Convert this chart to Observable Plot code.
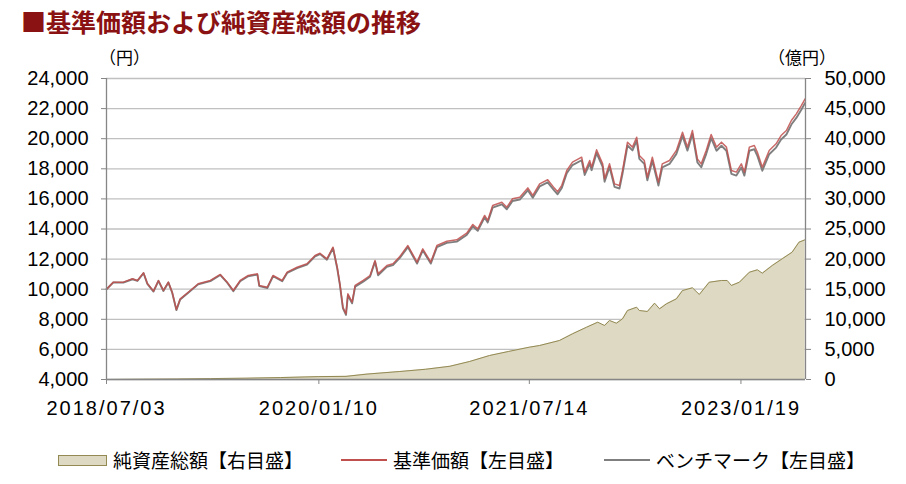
<!DOCTYPE html>
<html><head><meta charset="utf-8">
<script src="https://cdn.jsdelivr.net/npm/d3@7"></script>
<script src="https://cdn.jsdelivr.net/npm/@observablehq/plot@0.6"></script>
<style>
body{margin:0;background:#fff;}
#wrap{position:relative;width:906px;height:484px;overflow:hidden;font-family:"Noto Sans CJK JP",sans-serif;}
.abs{position:absolute;white-space:nowrap;line-height:1;}
#title{left:21px;top:9px;font-size:25px;font-weight:bold;color:#8a1212;}
.unit{top:48px;font-size:17px;color:#000;}
.leg{top:450px;font-size:19px;color:#000;}
#chart{position:absolute;left:0;top:0;}
g[aria-label="x-axis tick label"] text{letter-spacing:2px;}
</style></head>
<body>
<div id="wrap">
  <div id="chart"></div>
  <div id="title" class="abs">■基準価額および純資産総額の推移</div>
  <div class="abs unit" style="left:99px">（円）</div>
  <div class="abs unit" style="left:768px">（億円）</div>
  <div class="abs" style="left:58px;top:455px;width:47px;height:9px;background:#ddd9c3;border:1px solid #938953;"></div>
  <div class="abs leg" style="left:113px">純資産総額【右目盛】</div>
  <div class="abs" style="left:341px;top:459px;width:46px;height:2px;background:#c0504d;"></div>
  <div class="abs leg" style="left:393px">基準価額【左目盛】</div>
  <div class="abs" style="left:604px;top:459px;width:46px;height:1.5px;background:#7f7f7f;"></div>
  <div class="abs leg" style="left:656px">ベンチマーク【左目盛】</div>
</div>
<script>
// ---- data ----
const navDates = [
  "2018-07-03","2018-07-21","2018-08-16","2018-09-09","2018-09-22","2018-10-08","2018-10-18","2018-11-03","2018-11-16","2018-11-29","2018-12-12","2018-12-22",
  "2019-01-02","2019-01-12","2019-02-02","2019-02-28","2019-04-01","2019-04-27","2019-05-15","2019-05-31","2019-06-18","2019-07-09","2019-08-02","2019-08-07","2019-08-28","2019-09-12","2019-10-06","2019-10-19","2019-11-14","2019-12-10","2019-12-31",
  "2020-01-13","2020-01-31","2020-02-16","2020-02-27","2020-03-05","2020-03-13","2020-03-21","2020-03-26","2020-04-06","2020-04-14","2020-05-05","2020-05-23","2020-06-05","2020-06-13","2020-07-06","2020-07-22","2020-08-09","2020-08-30","2020-09-23","2020-10-08","2020-10-29","2020-11-14","2020-12-10",
  "2021-01-05","2021-01-31","2021-02-16","2021-03-01","2021-03-19","2021-03-27","2021-04-09","2021-05-03","2021-05-16","2021-05-31","2021-06-19","2021-07-10","2021-07-23","2021-08-10","2021-08-31","2021-09-18","2021-09-26","2021-10-07","2021-10-20","2021-11-04","2021-11-28","2021-12-06","2021-12-19","2021-12-24",
  "2022-01-06","2022-01-22","2022-01-27","2022-02-09","2022-02-22","2022-03-07","2022-03-15","2022-03-28","2022-04-10","2022-04-21","2022-04-28","2022-05-11","2022-05-19","2022-06-01","2022-06-17","2022-06-27","2022-07-16","2022-08-03","2022-08-19","2022-09-01","2022-09-14","2022-09-27","2022-10-07","2022-10-20","2022-11-02","2022-11-16","2022-11-29","2022-12-12","2022-12-25",
  "2023-01-07","2023-01-20","2023-01-28","2023-02-10","2023-02-23","2023-03-03","2023-03-16","2023-04-03","2023-04-21","2023-05-04","2023-05-18","2023-05-31","2023-06-13","2023-06-26","2023-07-06"
];
// 基準価額（円）
const navValues = [
  10000,10470,10470,10690,10580,11090,10380,9870,10580,9915,10470,9800,
  8650,9360,9800,10360,10580,10980,10470,9915,10580,10910,11020,10250,10130,10910,10580,11130,11460,11690,12240,
  12390,12020,12790,11460,10360,8800,8370,9690,9140,10250,10580,10910,11910,11020,11570,11690,12170,12900,11800,12680,11800,12900,13190,
  13280,13720,14300,14010,14900,14570,15560,15780,15450,16010,16110,16730,16230,17000,17270,16700,16480,16900,17890,18440,18770,17780,18550,18110,
  19260,18330,17340,18330,17000,16890,17890,19770,19440,20100,18880,18550,17440,18770,17110,18330,18550,19220,20430,19440,20540,18660,18330,19220,20280,19440,19770,19440,17890,
  17780,18330,17780,19440,19550,19100,18110,19220,19660,20210,20540,21210,21650,22200,22650
];
// ベンチマーク（円）
const benchValues = [
  10000,10450,10440,10660,10550,11060,10350,9840,10550,9880,10440,9770,
  8610,9320,9760,10320,10540,10940,10430,9870,10530,10860,10970,10200,10080,10860,10530,11080,11400,11630,12180,
  12330,11960,12720,11390,10290,8720,8290,9600,9060,10170,10500,10830,11820,10930,11480,11600,12080,12800,11700,12580,11700,12790,13080,
  13160,13600,14170,13880,14770,14440,15420,15640,15310,15860,15960,16570,16070,16830,17100,16530,16310,16720,17700,18250,18570,17590,18350,17910,
  19050,18120,17140,18120,16800,16690,17680,19550,19220,19870,18660,18330,17230,18540,16890,18100,18320,18990,20190,19210,20300,18430,18100,18980,20040,19200,19530,19200,17660,
  17550,18090,17550,19200,19300,18860,17870,18970,19410,19950,20280,20940,21380,21920,22380
];
const aumDates = [
  "2018-07-03","2018-10-01","2019-01-02","2019-04-01","2019-07-01","2019-10-01","2020-01-10","2020-03-21","2020-05-15","2020-08-09",
  "2020-10-15","2020-12-18","2021-02-08","2021-04-01","2021-05-20","2021-07-14","2021-08-10","2021-10-01","2021-11-04","2021-12-11",
  "2022-01-09","2022-01-27","2022-02-09","2022-02-27","2022-03-15","2022-03-28","2022-04-21","2022-04-28","2022-05-19","2022-06-07",
  "2022-06-20","2022-07-08","2022-08-03","2022-08-19","2022-09-14","2022-10-02","2022-10-28","2022-11-29","2022-12-14","2022-12-25",
  "2023-01-15","2023-02-10","2023-03-03","2023-03-16","2023-04-11","2023-05-07","2023-06-02","2023-06-20","2023-07-06"
];
// 純資産総額（億円）
const aumValues = [
  0,40,80,150,220,320,480,520,900,1330,
  1700,2200,3000,3990,4650,5370,5650,6480,7590,8690,
  9520,8970,9800,9350,10080,11460,12010,11460,11300,12680,
  11740,12570,13400,14780,15230,14120,16160,16450,16450,15620,
  16160,17820,18220,17660,18940,20050,21150,22810,23210
];
const xStart = "2018-07-03", xEnd = "2023-07-07";
const xTickDates = ["2018-07-03","2020-01-10","2021-07-14","2023-01-19"];
const leftTicks = [4000,6000,8000,10000,12000,14000,16000,18000,20000,22000,24000];
const rightTicks = [0,5000,10000,15000,20000,25000,30000,35000,40000,45000,50000];

// ---- chart ----
const parse = d3.utcParse("%Y-%m-%d");
const navData = navDates.map((d,i)=>({date:parse(d), nav:navValues[i], bm:benchValues[i]}));
const aumData = aumDates.map((d,i)=>({date:parse(d), aum:aumValues[i]}));
const L0 = leftTicks[0], L1 = leftTicks[leftTicks.length-1], R1 = rightTicks[rightTicks.length-1];
const toLeft = v => L0 + v*(L1-L0)/R1;
const fromLeft = y => (y-L0)*R1/(L1-L0);
const axisColor = "#868686";
const fmt = d3.format(",");

const chart = Plot.plot({
  width: 906, height: 430,
  marginTop: 78, marginBottom: 51, marginLeft: 106, marginRight: 101,
  style: {fontFamily: "'Liberation Sans', Arial, sans-serif", fontSize: "20px", background: "transparent", color: "#000"},
  x: {type: "utc", domain: [parse(xStart), parse(xEnd)]},
  y: {domain: [L0, L1]},
  marks: [
    Plot.gridY(leftTicks, {stroke: "#c0c0c0", strokeOpacity: 1, strokeWidth: 1.3}),
    Plot.areaY(aumData, {x: "date", y1: L0, y2: d => toLeft(d.aum), fill: "#ddd9c3"}),
    Plot.line(aumData, {x: "date", y: d => toLeft(d.aum), stroke: "#938953", strokeWidth: 1}),
    Plot.line(navData, {x: "date", y: "bm", stroke: "#7f7f7f", strokeWidth: 1.9}),
    Plot.line(navData, {x: "date", y: "nav", stroke: "#c0504d", strokeWidth: 1.5, strokeOpacity: 0.85}),
    Plot.ruleX([parse(xStart), parse(xEnd)], {stroke: axisColor, strokeWidth: 1.3}),
    Plot.ruleY([L0], {stroke: axisColor, strokeWidth: 1.3}),
    Plot.axisY(leftTicks, {anchor: "left", tickSize: 5, tickPadding: 13, stroke: axisColor, fill: "#000", tickFormat: fmt, label: null}),
    Plot.axisY(rightTicks.map(toLeft), {anchor: "right", tickSize: 5, tickPadding: 14, stroke: axisColor, fill: "#000", tickFormat: d => fmt(Math.round(fromLeft(d))), label: null}),
    Plot.axisX(xTickDates.map(parse), {anchor: "bottom", tickSize: 5, tickPadding: 16, stroke: axisColor, fill: "#000", tickFormat: d3.utcFormat("%Y/%m/%d"), label: null})
  ]
});
document.getElementById("chart").appendChild(chart);
</script>
</body></html>
